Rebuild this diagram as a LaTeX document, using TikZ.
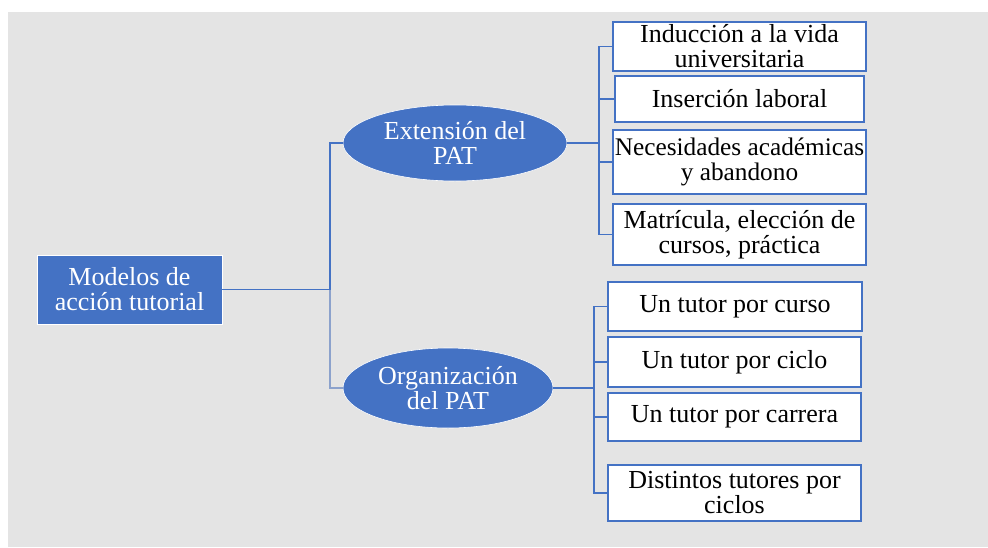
\documentclass[tikz,border=0pt]{standalone}
\usepackage{fontspec}
\setmainfont{Liberation Serif}
\usetikzlibrary{shapes.geometric}
\definecolor{bgg}{RGB}{228,228,228}
\definecolor{pblue}{RGB}{68,114,196}
\definecolor{lblue}{RGB}{140,162,204}
\begin{document}
\begin{tikzpicture}[x=1pt,y=-1pt,
  every node/.style={font=\fontsize{26}{25}\selectfont, align=center, inner sep=0pt, outer sep=0pt},
  rootbox/.style={rectangle, fill=pblue, draw=white, line width=0.8pt, text=white},
  oval/.style={ellipse, fill=pblue, draw=white, line width=0.6pt, text=white},
  leaf/.style={rectangle, fill=white, draw=pblue, line width=1.3pt, text=black},
  conn/.style={draw=pblue, line width=1.5pt}]
\useasboundingbox (0,0) rectangle (988,547);
\fill[white] (0,0) rectangle (988,547);
\fill[bgg] (8,12) rectangle (988,547);

\coordinate (trunk) at (330,0);
\coordinate (bra) at (599,0);
\coordinate (brb) at (594,0);

\node[rootbox, minimum width=185pt, minimum height=69pt] (root) at (129.5,289.5) {Modelos de\\acción tutorial};

\node[oval, minimum width=224pt, minimum height=76pt] (e1) at (455,143) {Extensión del\\PAT};
\node[oval, minimum width=210pt, minimum height=80pt] (e2) at (448,388) {Organización\\del PAT};

\node[leaf, minimum width=253pt, minimum height=49pt] (i1) at (739.5,46.5) {Inducción a la vida\\universitaria};
\node[leaf, minimum width=249pt, minimum height=46pt] (i2) at (739.5,99) {Inserción laboral};
\node[leaf, minimum width=253pt, minimum height=64pt, font=\fontsize{25.3}{25}\selectfont] (i3) at (739.5,162) {Necesidades académicas\\y abandono};
\node[leaf, minimum width=253pt, minimum height=61pt] (i4) at (739.5,234.5) {Matrícula, elección de\\cursos, práctica};

\node[leaf, minimum width=254pt, minimum height=49pt] (o1) at (735,306.5) {Un tutor por curso};
\node[leaf, minimum width=253pt, minimum height=50pt] (o2) at (734.5,362) {Un tutor por ciclo};
\node[leaf, minimum width=253pt, minimum height=48pt] (o3) at (734.5,417) {Un tutor por carrera};
\node[leaf, minimum width=253pt, minimum height=56pt] (o4) at (734.5,493) {Distintos tutores por\\ciclos};

\draw[conn] (root.east) -- (root.east -| trunk) |- (e1.west);
\draw[conn, draw=lblue, line width=2.2pt] (root.east -| trunk) |- (e2.west);

\foreach \n in {i1,i2,i3,i4}
  \draw[conn] (e1.east) -- (e1.east -| bra) |- (\n.west);
\foreach \n in {o1,o2,o3,o4}
  \draw[conn] (e2.east) -- (e2.east -| brb) |- (\n.west);
\end{tikzpicture}
\end{document}
